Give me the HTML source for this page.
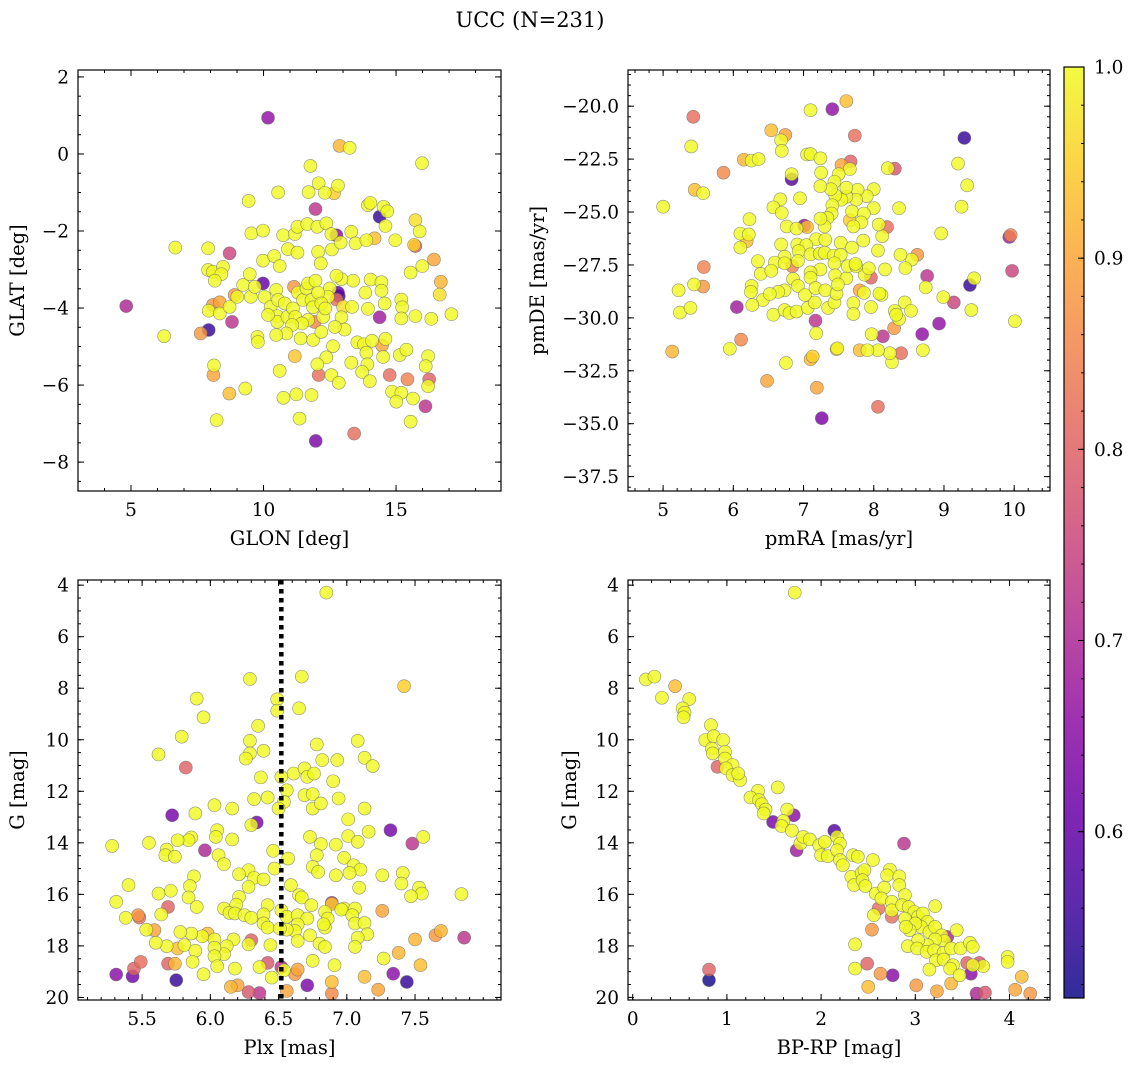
<!DOCTYPE html>
<html><head><meta charset="utf-8"><title>UCC (N=231)</title>
<style>
html,body{margin:0;padding:0;background:#fff;}
svg{display:block;font-family:"DejaVu Serif","Liberation Serif",serif;}
</style></head>
<body>
<svg id="chart" width="1136" height="1067" viewBox="0 0 1136 1067" xmlns="http://www.w3.org/2000/svg">
<text x="530" y="27" font-size="21" text-anchor="middle">UCC (N=231)</text>
</svg>
<script>
// Panel 1: GLON vs GLAT
const glon1=[4.82,10.17,12.87,13.25,15.98,11.77,10.55,9.44,11.70,12.08,12.31,12.66,12.81,11.96,13.94,14.03,14.38,14.53,14.67,14.60,15.73,15.89,15.73,15.68,16.43,15.99,15.55,16.69,16.65,17.09,16.33,15.73,15.20,15.23,15.20,14.57,14.38,13.84,13.94,14.04,14.45,14.45,13.38,12.94,12.75,13.34,13.00,12.81,12.75,12.50,12.43,12.94,13.06,12.69,12.62,12.37,12.03,12.08,12.56,12.84,13.31,13.54,13.79,13.88,14.09,13.92,13.72,14.01,14.51,14.47,14.60,14.76,15.14,15.39,15.43,16.21,16.12,16.25,16.21,14.85,15.20,15.01,15.64,16.11,15.55,13.42,11.97,11.24,11.81,10.75,11.36,10.61,11.18,9.31,8.71,8.23,8.13,8.11,6.25,7.63,7.93,6.67,7.91,8.72,7.91,8.09,8.47,8.41,8.16,7.93,8.35,8.35,8.09,8.72,8.81,8.91,9.01,9.23,9.48,9.52,9.67,9.98,9.98,9.54,9.98,10.40,10.61,10.74,10.92,11.18,11.28,11.28,11.65,12.03,12.37,12.56,12.75,12.58,12.06,12.16,12.91,13.31,13.47,13.88,14.19,14.97,10.04,10.27,10.48,10.55,10.52,10.52,10.17,10.80,10.90,11.15,11.11,11.20,11.30,11.49,11.62,11.68,11.81,11.87,11.96,12.06,12.18,12.25,12.33,11.68,11.45,11.08,10.86,10.48,9.77,9.79,11.40,11.87,12.18,11.93,12.84];
const glat1=[-3.95,0.94,0.21,0.16,-0.24,-0.31,-1.0,-1.22,-0.99,-0.76,-1.01,-1.02,-0.82,-1.43,-1.33,-1.27,-1.63,-1.37,-1.49,-1.87,-1.72,-2.01,-2.39,-2.36,-2.74,-2.91,-3.08,-3.32,-3.65,-4.16,-4.28,-4.21,-3.78,-3.98,-4.27,-3.88,-4.24,-3.60,-4.02,-3.26,-3.33,-3.55,-3.29,-3.25,-3.16,-3.97,-3.97,-3.60,-3.78,-3.49,-3.71,-4.24,-4.56,-4.49,-4.99,-5.28,-5.46,-5.74,-5.74,-5.94,-5.42,-4.89,-4.94,-5.16,-4.85,-5.46,-5.66,-5.90,-5.27,-4.97,-4.80,-5.74,-5.22,-5.08,-5.85,-5.25,-5.51,-5.85,-6.03,-6.17,-6.20,-6.43,-6.35,-6.55,-6.95,-7.26,-7.45,-6.24,-6.26,-6.33,-6.87,-5.63,-5.25,-6.09,-6.22,-6.91,-5.49,-5.74,-4.73,-4.66,-4.57,-2.43,-2.45,-2.58,-3.01,-3.06,-2.93,-3.12,-3.29,-4.07,-4.14,-3.85,-3.92,-3.97,-4.36,-3.66,-3.71,-3.40,-3.12,-3.71,-3.45,-3.36,-2.77,-2.06,-1.99,-2.65,-2.91,-2.11,-2.47,-2.08,-1.89,-2.56,-1.82,-1.89,-1.80,-2.08,-2.11,-2.48,-2.54,-2.84,-2.30,-2.02,-2.32,-2.24,-2.19,-2.24,-3.71,-3.97,-3.53,-3.79,-4.21,-4.36,-4.18,-3.88,-4.23,-3.45,-4.01,-4.23,-3.60,-3.79,-3.49,-3.36,-3.79,-3.98,-3.29,-3.60,-3.88,-4.23,-4.01,-4.31,-4.40,-4.44,-4.66,-4.70,-4.75,-4.88,-4.79,-4.83,-4.62,-4.36,-3.69];
const prob1=[.70,.66,.92,1,1,1,1,1,1,1, 1,.95,1,.72,1,1,.55,1,1,1, .97,1,.80,.95,.90,1,1,.92,.97,1, 1,1,1,1,1,1,.68,1,1,1, 1,1,1,1,1,1,.97,.60,.82,1, 1,1,1,1,1,1,1,.82,1,1, 1,1,1,1,1,1,1,1,1,.90, 1,.82,1,1,.85,1,1,.80,1,1, 1,1,1,.72,1,.82,.63,1,1,1, 1,1,.94,1,.93,1,1,.90,1,.88, .55,1,1,.75,1,1,1,1,1,1, 1,.90,.88,1,.72,.88,1,1,1,1, 1,.60,1,1,1,1,1,1,1,1, 1,1,1,1,1,1,.65,1,1,1, 1,1,1,1,.93,1,1,1,1,1, 1,1,1,1,1,.88,1,1,1,1, 1,1,1,1,1,1,1,1,1,1, 1,1,1,1,1,1,1,1,1,.85, .55];

// Panel 2: pmRA vs pmDE
const pmra2=[5.00,5.43,5.40,5.86,5.45,5.57,5.58,5.44,5.57,5.22,5.24,5.39,5.13,5.95,6.11,6.05,6.48,6.75,7.19,7.26,8.06,7.10,7.13,7.18,7.17,6.54,6.74,6.68,6.69,6.15,6.26,6.36,7.10,7.41,7.61,7.73,6.83,6.83,7.05,7.10,7.24,7.25,7.54,7.67,7.66,7.50,8.20,8.30,9.29,9.20,9.33,9.25,8.96,9.95,9.93,9.97,10.01,9.37,9.43,9.39,9.14,8.99,8.93,8.69,8.70,8.76,8.74,8.39,8.13,8.29,8.26,8.23,8.06,7.91,7.80,7.97,7.48,7.47,8.62,8.54,8.45,8.38,8.44,8.53,8.30,8.36,8.32,8.16,8.11,8.08,7.96,7.86,7.80,7.96,7.87,7.93,7.85,8.06,8.12,8.07,8.19,8.36,8.00,8.00,7.90,7.77,7.75,7.69,7.86,7.82,7.71,7.66,7.61,7.61,7.54,7.45,7.44,7.39,7.41,7.40,7.34,7.30,7.24,7.24,6.95,6.67,6.57,6.69,6.23,6.10,6.22,6.19,6.10,6.76,6.90,7.01,7.05,7.18,7.31,7.53,7.69,6.68,6.91,7.04,6.93,6.73,6.59,6.35,6.39,6.54,6.73,6.84,6.92,7.10,7.23,7.30,7.43,7.53,7.24,7.10,7.10,7.44,7.45,7.61,7.63,7.75,7.74,6.85,6.92,6.73,6.64,6.26,6.25,6.42,6.52,6.27,6.57,6.73,6.80,6.90,7.06,7.16,7.02,7.17,7.31,7.35,7.44,7.47,7.49,7.71,7.71];
const pmde2=[-24.75,-20.50,-21.90,-23.14,-23.95,-24.11,-27.60,-28.42,-28.52,-28.70,-29.75,-29.53,-31.59,-31.46,-31.03,-29.49,-32.98,-32.13,-33.30,-34.74,-34.20,-31.96,-31.82,-30.73,-30.13,-21.14,-21.36,-21.61,-22.11,-22.53,-22.57,-22.50,-20.19,-20.14,-19.76,-21.39,-23.45,-23.21,-22.28,-22.26,-22.46,-23.14,-22.78,-22.61,-22.97,-23.21,-22.93,-22.95,-21.50,-22.71,-23.74,-24.75,-26.01,-26.09,-26.18,-27.78,-30.16,-28.45,-28.13,-29.63,-29.27,-29.02,-30.27,-30.77,-31.53,-28.02,-28.56,-31.67,-30.87,-30.49,-32.10,-31.67,-31.53,-31.53,-31.53,-30.77,-31.44,-31.48,-27.02,-27.25,-27.65,-27.02,-29.27,-29.67,-29.67,-30.06,-29.85,-27.71,-28.92,-28.85,-29.49,-28.82,-28.70,-28.10,-27.96,-27.66,-26.35,-26.82,-26.14,-25.59,-25.71,-24.82,-24.81,-23.92,-24.25,-23.95,-24.42,-24.97,-25.07,-25.49,-25.68,-25.39,-24.28,-23.85,-24.42,-24.21,-23.57,-23.92,-24.68,-25.07,-25.28,-25.68,-25.31,-23.78,-24.35,-24.40,-24.78,-25.04,-25.34,-26.02,-26.06,-26.38,-26.68,-25.68,-25.78,-25.64,-25.71,-26.28,-26.31,-26.45,-26.68,-26.53,-26.53,-26.56,-26.85,-27.11,-27.39,-27.32,-27.92,-27.78,-27.42,-27.56,-27.31,-27.00,-26.96,-26.92,-27.06,-27.02,-27.71,-27.85,-28.10,-27.42,-27.99,-28.13,-27.56,-27.56,-27.45,-28.16,-28.49,-28.70,-28.77,-28.49,-28.77,-29.16,-28.87,-29.39,-29.85,-29.63,-29.77,-29.70,-29.53,-29.27,-28.92,-28.59,-28.70,-29.53,-29.27,-28.85,-28.42,-29.30,-29.82];
const prob2=[1,.82,1,.86,.93,1,.85,1,.88,1, 1,1,.92,1,.86,.68,.90,1,.90,.63, .82,.93,.95,1,.72,.93,.90,1,1,.92, 1,1,1,.66,.93,.82,.58,1,1,1, 1,1,.90,.80,1,1,1,.78,.55,1, 1,1,1,.85,.68,.75,1,.55,1,1, .75,1,.66,.66,1,.72,1,.82,.72,.88, 1,1,1,1,.93,1,1,.93,.88,1, 1,1,1,1,1,1,1,1,1,1, 1,1,.90,.80,1,1,1,1,1,1, .82,1,1,1,1,1,1,1,1,1, 1,.95,1,1,1,1,1,1,1,1, 1,1,1,1,1,1,1,1,1,1, 1,.93,1,1,1,.66,.93,1,1,1, 1,1,1,1,1,1,1,1,1,1, 1,.85];

// Panel 3: Plx vs G
const plx3=[6.85,6.29,6.67,7.42,6.49,6.49,6.65,5.90,5.95,6.35,5.79,5.62,5.82,6.29,6.29,6.26,6.39,6.78,6.82,6.93,7.08,7.13,7.19,6.61,6.69,6.71,6.76,6.52,6.37,6.90,6.56,6.32,6.42,6.54,6.69,6.75,6.75,6.81,6.94,6.50,7.13,7.01,6.03,6.16,5.89,5.72,6.34,6.30,6.05,6.04,6.16,5.86,5.84,5.76,5.55,5.28,5.68,5.67,5.74,5.96,6.06,6.10,6.73,6.81,6.92,7.01,7.08,7.16,7.32,7.48,7.56,6.46,6.57,6.78,6.75,6.79,6.98,7.05,7.10,7.02,6.92,6.47,6.28,6.32,6.39,6.21,5.88,5.40,7.26,7.41,7.40,7.53,7.55,7.47,7.84,7.09,6.59,5.85,5.84,5.71,5.62,5.31,6.21,6.19,6.28,6.65,6.67,6.74,6.89,6.89,6.98,7.06,7.26,6.42,6.52,5.90,5.69,5.64,5.47,5.48,5.38,6.10,6.14,6.18,6.25,6.30,6.39,6.39,6.42,6.56,6.64,6.71,6.64,6.62,6.56,6.51,6.84,6.86,6.84,6.83,6.96,7.04,7.06,7.13,7.15,7.08,7.06,6.73,6.80,6.84,6.64,6.44,6.28,6.30,6.17,6.12,6.10,6.03,6.03,6.03,5.94,5.98,5.86,5.78,5.81,5.89,5.76,5.68,5.60,5.59,5.53,5.87,6.05,5.95,6.18,6.36,6.42,6.45,5.69,5.74,5.49,5.44,5.43,5.31,5.75,6.15,6.20,6.28,6.36,6.52,6.54,6.62,6.64,6.56,6.71,6.75,6.91,6.89,6.89,7.13,7.23,7.27,7.38,7.34,7.44,7.54,7.50,7.65,7.69,7.86];
const gmag3=[4.29,7.64,7.55,7.92,8.43,8.87,8.78,8.40,9.13,9.46,9.88,10.57,11.08,10.04,10.53,10.73,10.43,10.18,10.79,10.79,10.04,10.70,11.02,11.31,11.11,11.44,11.31,11.44,11.46,11.61,11.96,12.30,12.24,12.41,12.15,12.11,12.67,12.47,12.28,12.67,12.67,13.09,12.54,12.67,12.86,12.93,13.21,13.31,13.51,13.77,13.87,13.79,13.90,13.90,14.00,14.12,14.26,14.48,14.54,14.29,14.48,14.83,13.77,14.05,14.07,13.74,13.96,13.57,13.51,14.03,13.77,14.31,14.61,14.48,14.93,15.13,14.58,14.87,15.04,15.17,15.26,15.00,15.06,15.36,15.42,15.22,15.30,15.64,15.26,15.17,15.58,15.74,15.97,16.07,15.99,15.74,15.64,15.68,16.12,15.86,15.97,16.29,16.10,16.40,15.71,16.03,16.12,16.42,16.33,16.37,16.55,16.55,16.64,16.42,16.62,16.49,16.49,16.78,16.81,16.90,16.91,16.55,16.72,16.74,16.81,16.91,16.78,17.13,17.29,16.87,16.81,16.94,17.17,17.42,17.37,17.33,16.68,16.94,17.29,17.16,16.59,16.81,17.13,17.11,17.55,17.68,18.04,17.59,17.91,18.04,17.81,17.97,17.94,17.78,17.75,18.01,18.32,17.75,18.07,18.40,17.63,17.52,17.52,17.46,17.97,18.19,18.10,18.01,17.88,17.39,17.37,18.62,18.79,19.10,18.88,18.82,18.66,19.23,18.69,18.69,18.62,18.88,19.18,19.11,19.33,19.59,19.53,19.79,19.83,18.82,18.95,19.10,18.92,19.75,19.53,18.58,18.75,19.40,19.85,19.20,19.70,18.49,18.27,19.08,19.40,18.75,17.75,17.59,17.42,17.68];
const prob3=[1,1,1,.95,1,1,1,1,1,1, 1,1,.80,1,1,1,1,1,1,1, 1,1,1,1,1,1,1,1,1,1, 1,1,1,1,1,1,1,1,1,1, 1,1,1,1,1,.62,.62,1,1,1, 1,1,1,1,1,1,1,1,1,.70, 1,1,1,1,1,1,1,1,.62,.72, 1,1,1,1,1,1,1,1,1,1, 1,1,1,1,1,1,1,1,1,1, 1,1,1,1,1,1,1,1,1,1, 1,1,1,1,1,1,1,1,.70,.95, 1,1,.90,1,1,1,.80,1,.88,.82, 1,1,1,1,1,1,1,1,1,1, 1,1,1,1,1,1,1,1,1,1, 1,1,1,1,1,1,1,1,1,1, 1,1,1,.80,1,1,1,1,1,1, 1,.93,1,1,1,1,.93,1,1,.90, 1,1,1,1,1,1,.78,1,.80,.92, .82,.80,.62,.65,.55,.92,.90,.78,.72,.72, 1,.88,.90,.90,.63,1,1,.93,.86,.93, .90,1,.92,.65,.55,.93,.92,.88,.92,.72];
const plxLine=6.52;

// Panel 4: BP-RP vs G
const bprp4=[1.72,0.14,0.23,0.45,0.31,0.60,0.53,0.55,0.54,0.83,0.77,0.86,0.96,0.84,0.85,0.98,0.90,0.98,1.06,0.99,1.06,1.14,1.12,1.54,1.33,1.25,1.34,1.37,1.41,1.39,1.49,1.64,1.71,1.60,1.58,1.69,1.74,1.78,1.81,1.88,1.98,2.00,2.07,2.04,2.14,2.17,2.20,2.17,2.20,2.23,2.34,2.39,2.55,2.32,2.35,2.43,2.46,2.44,2.47,2.58,2.67,2.73,2.70,2.83,2.83,2.89,2.88,2.64,2.75,2.61,2.56,2.75,2.75,2.86,2.93,2.99,2.89,3.03,3.08,3.21,3.13,3.06,3.00,2.94,2.90,3.15,3.21,3.28,3.34,3.44,3.31,3.21,3.13,3.03,2.92,3.02,3.12,3.20,3.30,3.38,3.48,3.58,3.61,3.22,3.30,3.40,3.55,3.68,3.72,3.61,3.37,3.15,3.47,3.59,3.38,3.98,3.98,4.13,4.06,4.22,3.65,3.74,3.23,3.01,2.76,2.63,2.49,2.36,2.50,2.36,2.54,0.81,0.81];
const gmag4=[4.29,7.66,7.55,7.92,8.37,8.42,8.78,8.95,9.13,9.43,10.01,9.86,10.01,10.34,10.53,10.47,11.05,10.73,10.98,11.11,11.37,11.57,11.31,11.85,11.98,12.24,12.34,12.50,12.71,12.86,13.19,12.71,12.93,13.15,13.35,13.53,14.29,14.03,13.77,13.87,14.09,14.48,14.52,13.96,13.53,13.77,14.03,14.29,14.67,14.87,14.48,14.54,14.67,15.32,15.64,15.17,15.06,15.45,15.68,15.97,15.74,15.04,15.26,15.30,15.64,16.03,14.03,16.16,16.29,16.55,16.81,16.62,16.87,16.42,16.49,16.68,16.94,16.87,16.74,16.46,17.07,17.26,17.13,17.39,17.26,17.46,17.26,17.59,17.65,17.39,17.81,17.75,17.97,17.78,18.01,18.10,18.23,18.17,18.27,18.10,18.10,17.88,18.04,18.56,18.53,18.75,18.66,18.66,18.79,18.75,18.88,18.92,19.14,19.08,19.46,18.43,18.62,19.20,19.70,19.85,19.85,19.81,19.76,19.53,19.14,19.08,18.69,18.88,19.59,17.94,17.37,18.92,19.33];
const prob4=[1,1,1,.93,1,1,1,1,1,1, 1,1,1,1,1,1,.80,1,1,1, 1,1,1,1,1,1,1,1,1,1, .62,1,.65,1,1,1,.68,1,1,1, 1,1,1,1,.58,1,1,1,1,1, 1,1,1,1,1,1,1,1,1,1, 1,1,1,1,1,1,.72,1,1,.82, 1,1,.82,1,1,1,1,1,1,1, 1,1,1,1,1,1,1,1,.70,1, 1,1,1,1,1,1,1,1,1,1, 1,1,1,1,1,1,.80,.78,1,1, 1,1,1,.65,.92,1,1,.93,.90,.88, .70,.78,.90,.88,.65,.88,.80,1,.93,1, .88,.80,.52];

// colorbar
const cbTicks=[0.6,0.7,0.8,0.9,1.0];
const cbMin=0.513, cbMax=1.0;

const NS="http://www.w3.org/2000/svg";
const svg=document.getElementById('chart');
const TF=18.5, LF=19.5;
function mk(tag,attrs,parent){const e=document.createElementNS(NS,tag);for(const k in attrs)e.setAttribute(k,attrs[k]);(parent||svg).appendChild(e);return e;}
const plasmaStops=["#0d0887","#41049d","#6a00a8","#8f0da4","#b12a90","#cc4778","#e16462","#f2844b","#fca636","#fcce25","#f0f921"];
function hex(c){return [parseInt(c.slice(1,3),16),parseInt(c.slice(3,5),16),parseInt(c.slice(5,7),16)];}
function plasma(t){t=Math.max(0,Math.min(1,t));const s=t*10,i=Math.min(9,Math.floor(s)),f=s-i;const a=hex(plasmaStops[i]),b=hex(plasmaStops[i+1]);return 'rgb('+a.map((v,k)=>Math.round(v+(b[k]-v)*f)).join(',')+')';}
function fmt(v,d){const s=v.toFixed(d);return v<0?'\u2212'+s.slice(1):s;}

function axis(cfg){
  const {x0,x1,y0,y1,xd,yd,yInv,name}=cfg;
  const sx=v=>x0+(v-xd[0])/(xd[1]-xd[0])*(x1-x0);
  const sy=yInv?(v=>y0+(v-yd[0])/(yd[1]-yd[0])*(y1-y0)):(v=>y1-(v-yd[0])/(yd[1]-yd[0])*(y1-y0));
  const g=mk('g',{});
  
  
  return {sx,sy,g,cfg};
}
function drawFrame(A){
  const {x0,x1,y0,y1,xd,yd,xMaj,xMin,yMaj,yMin,xDec,yDec,xLabel,yLabel,name,ylx}=A.cfg;
  const g=A.g;
  const t=mk('g',{stroke:'#000','stroke-width':1},g);
  
  
  const lo=Math.min(xd[0],xd[1]),hi=Math.max(xd[0],xd[1]);
  const eps=1e-9;
  function rng(a,b,s){const r=[];for(let v=Math.ceil((a-eps)/s)*s;v<=b+eps;v+=s)r.push(+v.toFixed(6));return r;}
  rng(lo,hi,xMin).forEach(v=>{const x=A.sx(v);mk('line',{x1:x,x2:x,y1:y1,y2:y1-3},t);mk('line',{x1:x,x2:x,y1:y0,y2:y0+3},t);});
  const ylo=Math.min(yd[0],yd[1]),yhi=Math.max(yd[0],yd[1]);
  rng(ylo,yhi,yMin).forEach(v=>{const y=A.sy(v);mk('line',{x1:x0,x2:x0+3,y1:y,y2:y},t);mk('line',{x1:x1,x2:x1-3,y1:y,y2:y},t);});
  xMaj.forEach(v=>{const x=A.sx(v);mk('line',{x1:x,x2:x,y1:y1,y2:y1-6},t);mk('line',{x1:x,x2:x,y1:y0,y2:y0+6},t);
    const tx=mk('text',{x:x,y:y1+25,'font-size':TF,'text-anchor':'middle'},g);tx.textContent=fmt(v,xDec);
    });
  yMaj.forEach(v=>{const y=A.sy(v);mk('line',{x1:x0,x2:x0+6,y1:y,y2:y},t);mk('line',{x1:x1,x2:x1-6,y1:y,y2:y},t);
    const tx=mk('text',{x:x0-9,y:y+6.5,'font-size':TF,'text-anchor':'end'},g);tx.textContent=fmt(v,yDec);
    });
  const fr=mk('rect',{x:x0,y:y0,width:x1-x0,height:y1-y0,fill:'none',stroke:'#000','stroke-width':1.2},g);
  
  const xl=mk('text',{x:(x0+x1)/2,y:y1+54,'font-size':LF,'text-anchor':'middle'},g);xl.textContent=xLabel;
  
  const cy=(y0+y1)/2;
  const yl=mk('text',{x:ylx,y:cy,'font-size':LF,'text-anchor':'middle',transform:'rotate(-90 '+ylx+' '+cy+')'},g);yl.textContent=yLabel;
  
}
function drawPoints(A,xs,ys,ps){
  const n=Math.min(xs.length,ys.length);
  const idx=[];for(let i=0;i<n;i++)idx.push(i);
  const pv=i=>(ps[i]===undefined?1:ps[i]);
  idx.sort((a,b)=>pv(a)-pv(b));
  const pg=mk('g',{},A.g);
  
  
  idx.forEach(i=>{
    const c=mk('circle',{cx:A.sx(xs[i]),cy:A.sy(ys[i]),r:6.5,fill:plasma((pv(i)-cbMin)/(cbMax-cbMin)),'fill-opacity':0.82,stroke:'#666','stroke-width':0.6,'stroke-opacity':0.7},pg);
    
    
  });
}

const A1=axis({name:'glon-glat',x0:78,x1:501,y0:70,y1:491,xd:[3.0,18.96],yd:[-8.75,2.18],xMaj:[5,10,15],xMin:1,yMaj:[-8,-6,-4,-2,0,2],yMin:0.5,xDec:0,yDec:0,xLabel:'GLON [deg]',yLabel:'GLAT [deg]',ylx:24});
drawPoints(A1,glon1,glat1,prob1);drawFrame(A1);

const A2=axis({name:'pm',x0:628,x1:1050,y0:70,y1:491,xd:[4.5,10.51],yd:[-38.18,-18.29],xMaj:[5,6,7,8,9,10],xMin:0.2,yMaj:[-37.5,-35,-32.5,-30,-27.5,-25,-22.5,-20],yMin:0.5,xDec:0,yDec:1,xLabel:'pmRA [mas/yr]',yLabel:'pmDE [mas/yr]',ylx:544});
drawPoints(A2,pmra2,pmde2,prob2);drawFrame(A2);

const A3=axis({name:'plx-g',x0:78,x1:501,y0:580,y1:1000,xd:[5.03,8.13],yd:[3.8,20.1],yInv:true,xMaj:[5.5,6.0,6.5,7.0,7.5],xMin:0.1,yMaj:[4,6,8,10,12,14,16,18,20],yMin:0.5,xDec:1,yDec:0,xLabel:'Plx [mas]',yLabel:'G [mag]',ylx:24});
drawPoints(A3,plx3,gmag3,prob3);
{const x=A3.sx(plxLine);const l=mk('line',{x1:x,x2:x,y1:580,y2:1000,stroke:'#000','stroke-width':4.5,'stroke-dasharray':'4.5,4.5'},A3.g);
 }
drawFrame(A3);

const A4=axis({name:'cmd',x0:628,x1:1050,y0:580,y1:1000,xd:[-0.05,4.43],yd:[3.8,20.1],yInv:true,xMaj:[0,1,2,3,4],xMin:0.2,yMaj:[4,6,8,10,12,14,16,18,20],yMin:0.5,xDec:0,yDec:0,xLabel:'BP-RP [mag]',yLabel:'G [mag]',ylx:576});
drawPoints(A4,bprp4,gmag4,prob4);drawFrame(A4);

// colorbar
const cb=mk('g',{});


const defs=mk('defs',{},cb);
const lg=mk('linearGradient',{id:'plasmaGrad',x1:0,y1:1,x2:0,y2:0},defs);
plasmaStops.forEach((c,i)=>mk('stop',{offset:(i/10),'stop-color':c},lg));
const cbx0=1064,cbx1=1084,cby0=67,cby1=998;
const cs=v=>cby1-(v-cbMin)/(cbMax-cbMin)*(cby1-cby0);
const cr=mk('rect',{x:cbx0,y:cby0,width:cbx1-cbx0,height:cby1-cby0,fill:'url(#plasmaGrad)','fill-opacity':0.85},cb);

for(let v=0.52;v<=1.0001;v+=0.02){const y=cs(v);mk('line',{x1:cbx1,x2:cbx1-3,y1:y,y2:y,stroke:'#000','stroke-width':1},cb);}
cbTicks.forEach(v=>{const y=cs(v);mk('line',{x1:cbx1,x2:cbx1-6,y1:y,y2:y,stroke:'#000','stroke-width':1},cb);
  const t=mk('text',{x:cbx1+10,y:y+6.5,'font-size':TF},cb);t.textContent=v.toFixed(1);
  });
mk('rect',{x:cbx0,y:cby0,width:cbx1-cbx0,height:cby1-cby0,fill:'none',stroke:'#000','stroke-width':1.2},cb);
</script>
</body></html>
